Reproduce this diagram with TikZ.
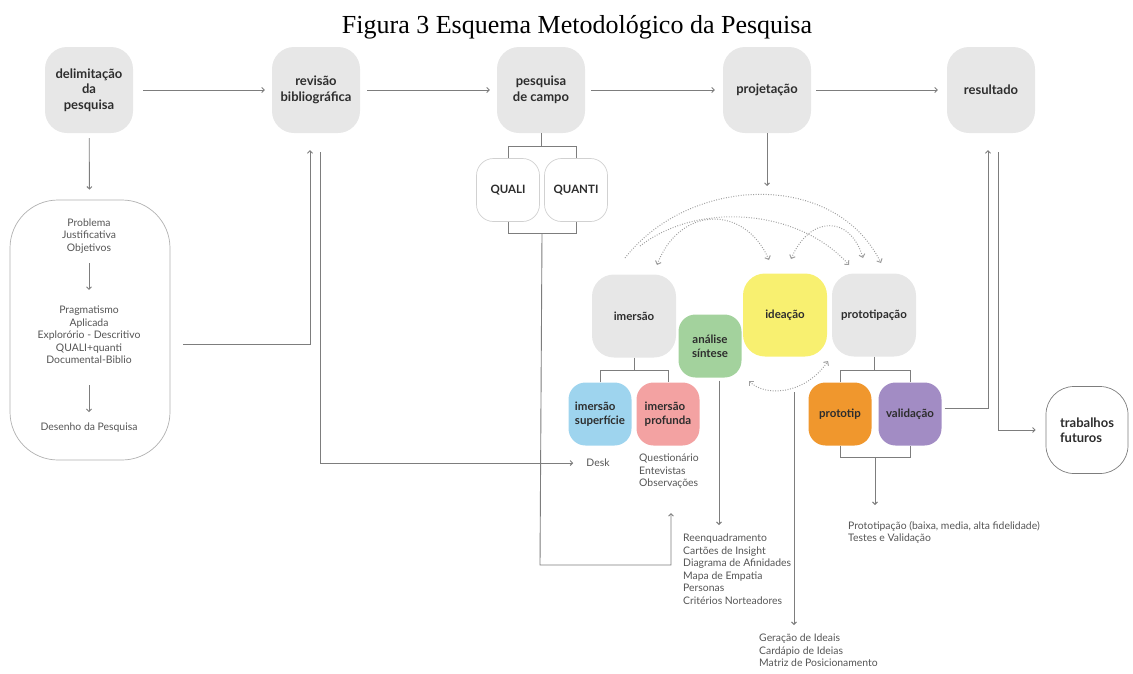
\documentclass[tikz,border=0pt]{standalone}
\usepackage{fontspec}
\setmainfont{Lato}
\newfontfamily\titlefont{Liberation Serif}
\usetikzlibrary{arrows.meta,positioning,calc}
\definecolor{boxgray}{RGB}{231,231,231}
\definecolor{linegray}{RGB}{125,125,125}
\definecolor{inkgray}{RGB}{45,45,45}
\definecolor{notegray}{RGB}{85,85,85}
\definecolor{softgreen}{RGB}{163,210,157}
\definecolor{softyellow}{RGB}{248,240,112}
\definecolor{softblue}{RGB}{158,212,238}
\definecolor{softpink}{RGB}{243,162,162}
\definecolor{softorange}{RGB}{240,151,45}
\definecolor{softpurple}{RGB}{162,140,196}

\begin{document}
\begin{tikzpicture}[x=1pt,y=-1pt,
  font=\fontsize{13}{15.5}\selectfont\bfseries,
  box/.style={fill=boxgray,rounded corners=22pt,minimum width=88pt,minimum height=86pt,align=center,inner sep=2pt,text=inkgray},
  big/.style={box,minimum width=84pt,minimum height=83pt,font=\fontsize{11.5}{14}\selectfont\bfseries},
  sub/.style={box,rounded corners=17pt,minimum width=63pt,minimum height=63pt,font=\fontsize{11.5}{14}\selectfont\bfseries},
  whitebox/.style={draw=linegray!60,fill=white,line width=.7pt},
  note/.style={font=\fontsize{10.4}{12.5}\selectfont,text=notegray,inner sep=0pt,align=left},
  link/.style={linegray,line width=.9pt},
  arr/.style={link,-{Straight Barb[length=2.5pt,width=5pt]}},
  dots/.style={linegray!75,line width=1pt,dash pattern=on .9pt off 1.6pt,-{Straight Barb[length=3pt,width=6pt,line width=1pt,sep=0pt]}},
  dotsboth/.style={dots,{Straight Barb[length=3pt,width=6pt,line width=1pt]}-{Straight Barb[length=3pt,width=6pt,line width=1pt]}}
]
\useasboundingbox (0,0) rectangle (1133,673);
\node[font=\titlefont\fontsize{26}{30}\selectfont,text=black] (title) at (577,27) {Figura 3 Esquema Metodológico da Pesquisa};

% etapas principais
\node[box] (delim) at (89,90) {delimitação\\da\\pesquisa};
\node[box] (rev) at (316,90) {revisão\\bibliográfica};
\node[box] (campo) at (541,90) {pesquisa\\de campo};
\node[box] (proj) at (767,90) {projetação};
\node[box] (res) at (991,90) {resultado};
\draw[arr,shorten <=10pt,shorten >=7pt] (delim) -- (rev);
\draw[arr,shorten <=7pt,shorten >=7pt] (rev) -- (campo);
\draw[arr,shorten <=6pt,shorten >=8pt] (campo) -- (proj);
\draw[arr,shorten <=5pt,shorten >=9pt] (proj) -- (res);

% delimitacao
\node[whitebox,rounded corners=48pt,minimum width=160pt,minimum height=260pt] (plan) at (90,330) {};
\node[note,align=center] (prob) at (89,236) {Problema\\Justificativa\\Objetivos};
\node[note,align=center] (prag) at (89,335) {Pragmatismo\\Aplicada\\Explorório - Descritivo\\QUALI+quanti\\Documental-Biblio};
\node[note,align=center] (desenho) at (89,428) {Desenho da Pesquisa};
\draw[arr,shorten <=5pt,shorten >=10pt] (delim) -- (plan);
\draw[arr,shorten <=10pt,shorten >=16pt] (prob) -- (prag);
\draw[arr,shorten <=21pt,shorten >=11pt] (prag) -- (desenho);
\coordinate (planout) at (183,344);
\draw[arr] (planout) -| ([xshift=-6pt,yshift=-17pt]rev.south);

% pesquisa de campo
\node[sub,whitebox,draw=linegray!35] (quali) at (508,190) {QUALI};
\node[sub,whitebox,draw=linegray!35] (quanti) at (576,190) {QUANTI};
\draw[link] (quali.north) -- ++(0,-12) -| (quanti.north);
\draw[link] (campo.south) -- ++(0,14);
\draw[link] (quali.south) -- ++(0,12) -| (quanti.south);
\coordinate (qq) at ($(quali.south)!.5!(quanti.south)+(0,12)$);
\coordinate (qqturn) at (540,565);
\coordinate (obsin) at (671,513);
\draw[arr] (qq) -- (qqturn) -| (obsin);

% projetacao
\coordinate (projin) at (767,186);
\draw[arr] (proj) -- (projin);
\node[big] (imer) at (634,316) {imersão};
\node[big,fill=softyellow] (idea) at (785,315) {ideação};
\node[big] (proto) at (874,315) {prototipação};
\node[sub,fill=softgreen] (ana) at (710,346) {análise\\síntese};
\node[sub,fill=softblue,align=left] (sup) at (600,414) {imersão\\superfície};
\node[sub,fill=softpink,align=left] (prof) at (668,414) {imersão\\profunda};
\node[sub,fill=softorange] (ptip) at (840,414) {prototip};
\node[sub,fill=softpurple] (valid) at (910,414) {validação};

% ciclo
\coordinate (c1a) at (625,258); \coordinate (c1b) at (881,263);
\coordinate (c2a) at (769,260); \coordinate (c2b) at (657,265);
\coordinate (c3a) at (640,246); \coordinate (c3b) at (849,265);
\coordinate (c4a) at (791,259); \coordinate (c4b) at (863,258);
\coordinate (c5a) at (749,381); \coordinate (c5b) at (828,361);
\draw[dots] (c1a) .. controls (690,175) and (835,170) .. (c1b);
\draw[dotsboth] (c2a) .. controls (745,205) and (680,205) .. (c2b);
\draw[dots] (c3a) .. controls (700,200) and (800,210) .. (c3b);
\draw[dotsboth] (c4a) .. controls (810,215) and (850,215) .. (c4b);
\draw[dotsboth] (c5a) .. controls (765,397) and (805,395) .. (c5b);

% imersao
\draw[link] (imer.south) -- ++(0,13);
\draw[link] (sup.north) -- ++(0,-12) -| (prof.north);
\node[note] (desk) at (598,463) {Desk};
\draw[arr,shorten >=13pt] ([xshift=4pt,yshift=-19pt]rev.south) |- (desk.west);
\node[note,anchor=north west] (quest) at (639,454) {Questionário\\Entevistas\\Observações};

% analise
\coordinate (anaend) at (719,525);
\draw[arr,shorten <=3pt] ([xshift=9pt]ana.south) -- (anaend);
\node[note,anchor=north west] (reenq) at (683,534) {Reenquadramento\\Cartões de Insight\\Diagrama de Afinidades\\Mapa de Empatia\\Personas\\Critérios Norteadores};

% ideacao
\coordinate (ideaout) at (794,392);
\coordinate (ideaend) at (794,625);
\draw[arr] (ideaout) -- (ideaend);
\node[note,anchor=north west] (gera) at (759,634) {Geração de Ideais\\Cardápio de Ideias\\Matriz de Posicionamento};

% prototipacao
\draw[link] (proto.south) -- ++(0,13.5);
\draw[link] (ptip.north) -- ++(0,-12) -| (valid.north);
\draw[link] (ptip.south) -- ++(0,12) -| (valid.south);
\coordinate (pv) at ($(ptip.south)!.5!(valid.south)+(0,12)$);
\coordinate (pvend) at (875,505);
\draw[arr] (pv) -- (pvend);
\node[note,anchor=north west] (prottxt) at (848,521) {Prototipação (baixa, media, alta fidelidade)\\Testes e Validação};

% resultado
\node[whitebox,draw=linegray,rounded corners=28pt,minimum width=82pt,minimum height=87pt,align=left,text=inkgray] (fut) at (1087,430) {trabalhos\\futuros};
\draw[arr,shorten <=3pt] ([yshift=6pt]valid.east) -| ([xshift=-3pt,yshift=-17pt]res.south);
\draw[arr,shorten >=10pt] ([xshift=7pt,yshift=-19pt]res.south) |- (fut.west);
\end{tikzpicture}
\end{document}
